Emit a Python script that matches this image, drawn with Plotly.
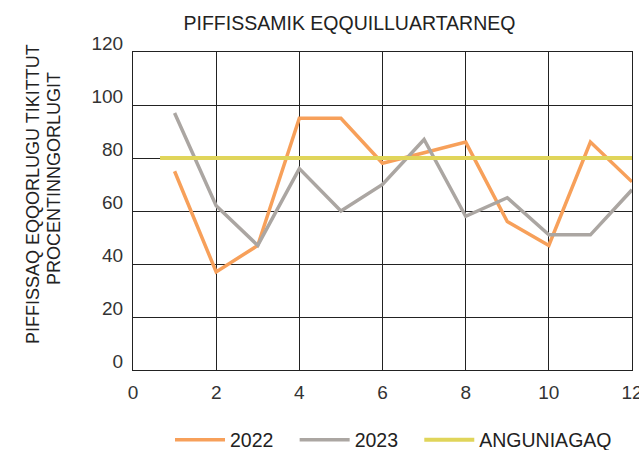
import plotly.graph_objects as go

months = [1, 2, 3, 4, 5, 6, 7, 8, 9, 10, 11, 12]
values_2022 = [75, 37, 47, 95, 95, 78, 82, 86, 56, 47, 86, 71]
values_2023 = [97, 62, 47, 76, 60, 70, 87, 58, 65, 51, 51, 68]
target_x = [0.65, 12]
target_y = [80, 80]

x_ticks = [0, 2, 4, 6, 8, 10, 12]
y_ticks = [0, 20, 40, 60, 80, 100, 120]

FONT = "Liberation Sans"
TXT = "#222222"
GRID = "#222222"
PAD = "\u00a0\u00a0\u00a0"

fig = go.Figure()
fig.add_trace(go.Scatter(x=months, y=values_2022, mode="lines", name="2022" + PAD,
                         line=dict(color="#F7A05A", width=3.5)))
fig.add_trace(go.Scatter(x=months, y=values_2023, mode="lines", name="2023" + PAD,
                         line=dict(color="#ABA6A2", width=3.5)))
fig.add_trace(go.Scatter(x=target_x, y=target_y, mode="lines", name="ANGUNIAGAQ",
                         line=dict(color="#E0D55A", width=4)))

fig.update_layout(
    width=639, height=450,
    margin=dict(l=133, r=7, t=52, b=80, autoexpand=False),
    paper_bgcolor="white", plot_bgcolor="white",
    font=dict(family=FONT, size=19, color=TXT),
    title=dict(text="PIFFISSAMIK EQQUILLUARTARNEQ", x=349.5 / 639, xref="container",
               xanchor="center", y=1 - 23 / 450, yref="container", yanchor="middle",
               font=dict(family=FONT, size=19.5, color=TXT)),
    showlegend=True,
    legend=dict(orientation="h", xref="container", yref="container",
                x=170 / 639, y=1 - 440 / 450, xanchor="left", yanchor="middle",
                font=dict(family=FONT, size=19.5, color=TXT), itemwidth=50,
                bgcolor="rgba(0,0,0,0)"),
    xaxis=dict(range=[0, 12], tickvals=x_ticks, ticktext=[str(v) for v in x_ticks],
               showgrid=True, gridcolor=GRID, gridwidth=1,
               zeroline=False, showline=True, mirror=True, linecolor=GRID, linewidth=1,
               ticks="", ticklabelstandoff=5, ticklabeloverflow="allow", fixedrange=True,
               tickfont=dict(family=FONT, size=19, color="#333333")),
    yaxis=dict(range=[0, 120], tickvals=y_ticks, ticktext=[str(v) for v in y_ticks],
               showgrid=True, gridcolor=GRID, gridwidth=1,
               zeroline=False, showline=True, mirror=True, linecolor=GRID, linewidth=1,
               ticks="", ticklabelstandoff=5, ticklabelshift=-9, fixedrange=True,
               tickfont=dict(family=FONT, size=19, color="#333333")),
)

fig.add_annotation(text="PIFFISSAQ EQQORLUGU TIKITTUT", textangle=-90,
                   xref="paper", yref="paper", x=(33 - 133) / 499, y=(370 - 194) / 318,
                   xanchor="center", yanchor="middle", showarrow=False,
                   font=dict(family=FONT, size=18, color=TXT))
fig.add_annotation(text="PROCENTINNGORLUGIT", textangle=-90,
                   xref="paper", yref="paper", x=(54 - 133) / 499, y=(370 - 179) / 318,
                   xanchor="center", yanchor="middle", showarrow=False,
                   font=dict(family=FONT, size=18, color=TXT))

fig.write_html("out.html", config={"displayModeBar": False},
               post_script="document.body.style.margin='0';document.body.style.overflow='hidden';")
